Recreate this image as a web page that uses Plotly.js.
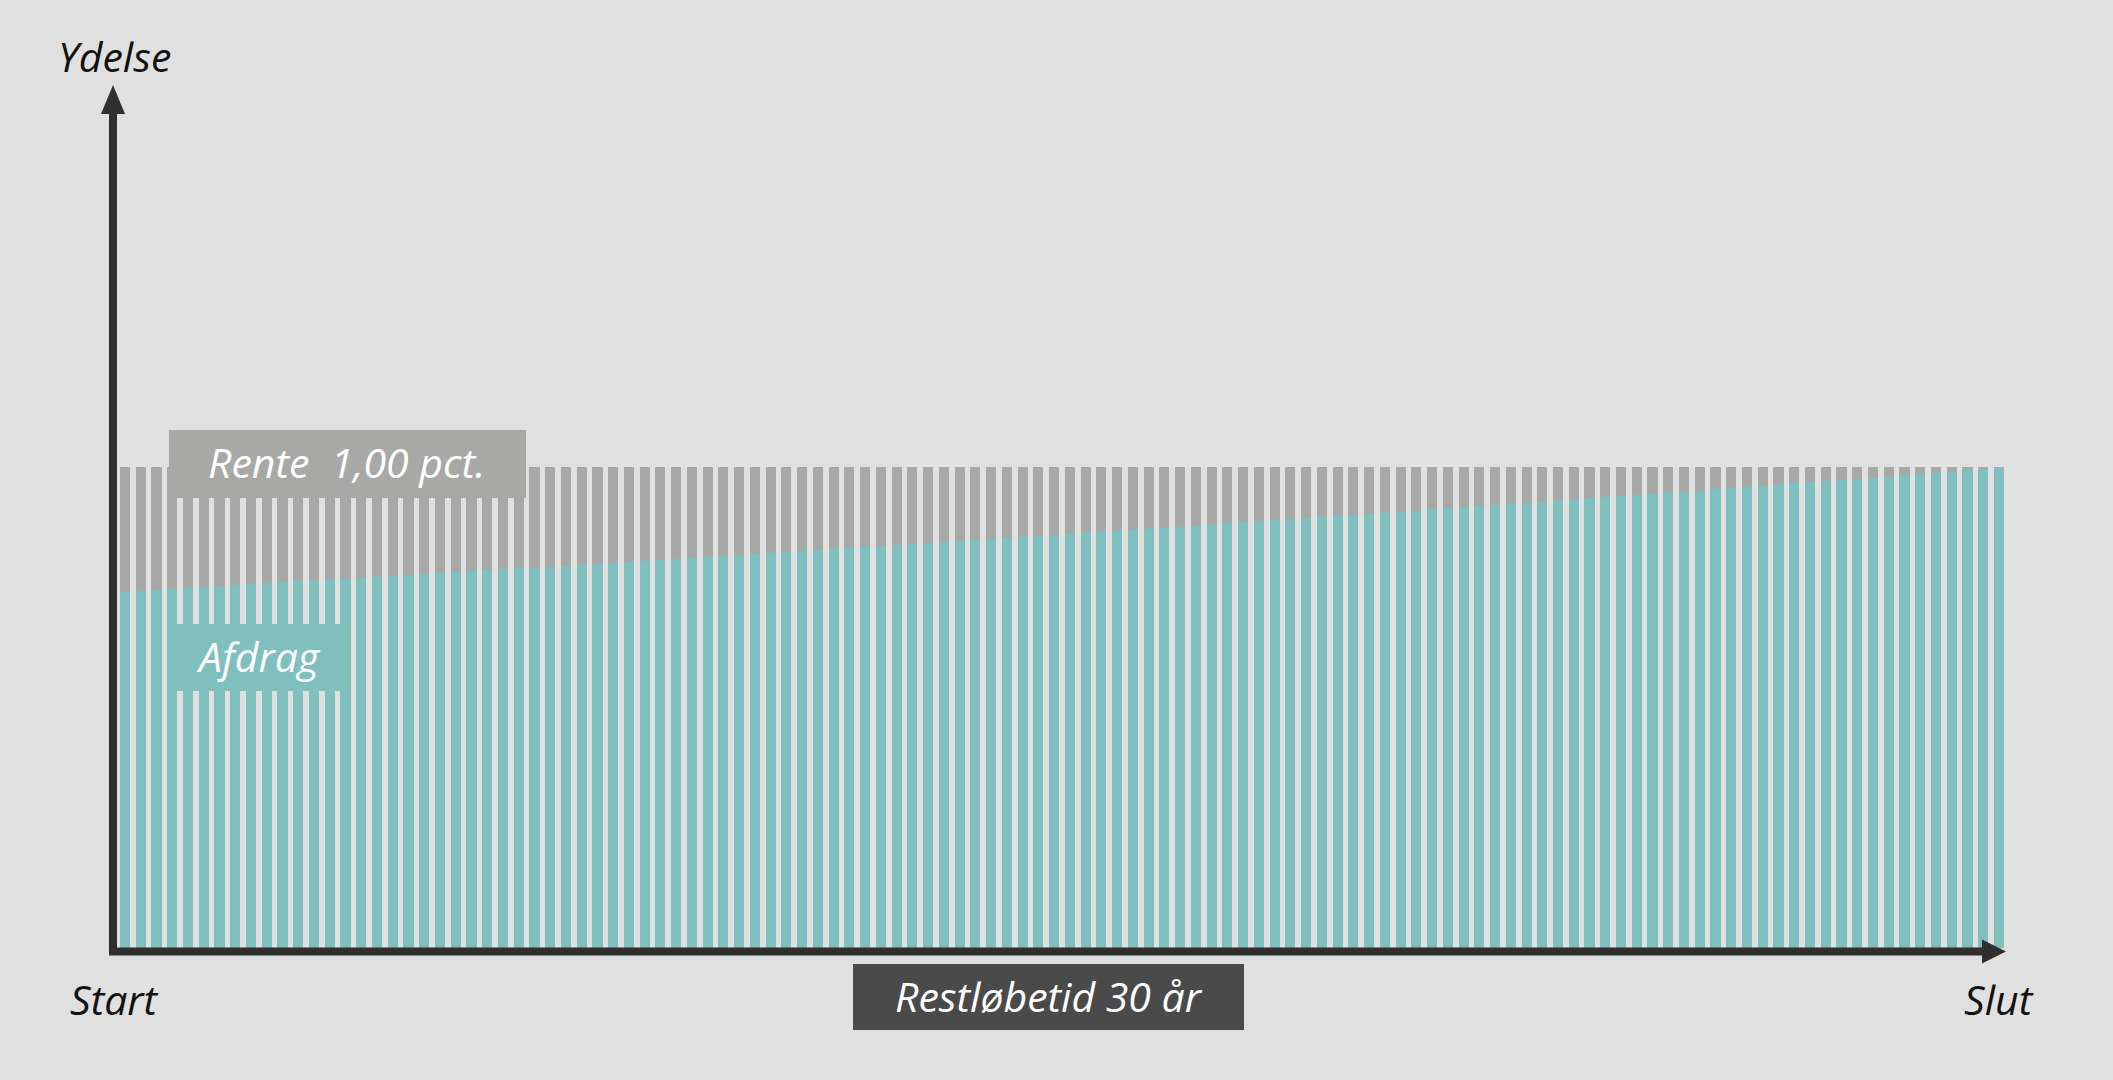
<!DOCTYPE html>
<html>
<head>
<meta charset="utf-8">
<script src="https://cdn.plot.ly/plotly-3.0.1.min.js"></script>
<style>
  html, body { margin: 0; padding: 0; background: #e0e0e0; }
  #chart { width: 2113px; height: 1080px; }
</style>
</head>
<body>
<div id="chart"></div>
<script>
// Annuitetslån, 30 år, kvartalsvise ydelser: andel af ydelsen (pct.)
const termin = Array.from({length: 120}, (_, i) => i + 1);

const afdrag = [
  74.1, 74.3, 74.5, 74.7, 74.9, 75.0, 75.2, 75.4, 75.6, 75.8,
  76.0, 76.2, 76.4, 76.6, 76.7, 76.9, 77.1, 77.3, 77.5, 77.7,
  77.9, 78.1, 78.3, 78.5, 78.7, 78.9, 79.1, 79.3, 79.5, 79.7,
  79.9, 80.1, 80.3, 80.5, 80.7, 80.9, 81.1, 81.3, 81.5, 81.7,
  81.9, 82.1, 82.3, 82.5, 82.7, 82.9, 83.1, 83.3, 83.5, 83.8,
  84.0, 84.2, 84.4, 84.6, 84.8, 85.0, 85.2, 85.4, 85.7, 85.9,
  86.1, 86.3, 86.5, 86.7, 87.0, 87.2, 87.4, 87.6, 87.8, 88.0,
  88.3, 88.5, 88.7, 88.9, 89.2, 89.4, 89.6, 89.8, 90.0, 90.3,
  90.5, 90.7, 90.9, 91.2, 91.4, 91.6, 91.9, 92.1, 92.3, 92.6,
  92.8, 93.0, 93.2, 93.5, 93.7, 94.0, 94.2, 94.4, 94.7, 94.9,
  95.1, 95.4, 95.6, 95.8, 96.1, 96.3, 96.6, 96.8, 97.0, 97.3,
  97.5, 97.8, 98.0, 98.3, 98.5, 98.8, 99.0, 99.3, 99.5, 99.8
];

const rente = [
  25.9, 25.7, 25.5, 25.3, 25.1, 25.0, 24.8, 24.6, 24.4, 24.2,
  24.0, 23.8, 23.6, 23.4, 23.3, 23.1, 22.9, 22.7, 22.5, 22.3,
  22.1, 21.9, 21.7, 21.5, 21.3, 21.1, 20.9, 20.7, 20.5, 20.3,
  20.1, 19.9, 19.7, 19.5, 19.3, 19.1, 18.9, 18.7, 18.5, 18.3,
  18.1, 17.9, 17.7, 17.5, 17.3, 17.1, 16.9, 16.7, 16.5, 16.2,
  16.0, 15.8, 15.6, 15.4, 15.2, 15.0, 14.8, 14.6, 14.3, 14.1,
  13.9, 13.7, 13.5, 13.3, 13.0, 12.8, 12.6, 12.4, 12.2, 12.0,
  11.7, 11.5, 11.3, 11.1, 10.8, 10.6, 10.4, 10.2, 10.0, 9.7,
  9.5, 9.3, 9.1, 8.8, 8.6, 8.4, 8.1, 7.9, 7.7, 7.4,
  7.2, 7.0, 6.8, 6.5, 6.3, 6.0, 5.8, 5.6, 5.3, 5.1,
  4.9, 4.6, 4.4, 4.2, 3.9, 3.7, 3.4, 3.2, 3.0, 2.7,
  2.5, 2.2, 2.0, 1.7, 1.5, 1.2, 1.0, 0.7, 0.5, 0.2
];

const labelRente = 'Rente  1,00 pct.';
const labelAfdrag = 'Afdrag';
const labelLoebetid = 'Restløbetid 30 år';
const labelY = 'Ydelse';
const labelStart = 'Start';
const labelSlut = 'Slut';

// Figure geometry
const W = 2113, H = 1080;
const M = {l: 120, r: 109, t: 467, b: 132};
const plotW = W - M.l - M.r;
const plotH = H - M.t - M.b;
// pixel -> paper coordinates
const px = x => (x - M.l) / plotW;
const py = y => (H - M.b - y) / plotH;

const colTeal = '#7fbfbe';
const colGrey = '#a8a8a7';
const colAxis = '#2f2f2f';
const colDark = '#4a4a4a';
const bg = '#e0e0e0';

const barGap = 0.36;
const half = (1 - barGap) / 2;

const traces = [
  {type: 'bar', x: termin, y: afdrag, name: labelAfdrag,
   marker: {color: colTeal, line: {width: 0}}},
  {type: 'bar', x: termin, y: rente, name: labelRente,
   marker: {color: colGrey, line: {width: 0}}}
];

function rect(x0, y0, x1, y1, color) {
  return {type: 'rect', xref: 'paper', yref: 'paper', layer: 'above',
          x0: px(x0), x1: px(x1), y0: py(y1), y1: py(y0),
          fillcolor: color, line: {width: 0}};
}
function line(x0, y0, x1, y1) {
  return {type: 'line', xref: 'paper', yref: 'paper', layer: 'above',
          x0: px(x0), x1: px(x1), y0: py(y0), y1: py(y1),
          line: {color: colAxis, width: 8}};
}
function tri(pts) {
  const d = pts.map((p, i) => (i ? 'L' : 'M') + px(p[0]) + ',' + py(p[1])).join(' ') + ' Z';
  return {type: 'path', xref: 'paper', yref: 'paper', layer: 'above',
          path: d, fillcolor: colAxis, line: {width: 0}};
}

const shapes = [
  // label boxes
  rect(169, 430, 526, 498, colGrey),
  rect(167, 624, 351, 691, colTeal),
  rect(853, 964, 1244, 1030, colDark),
  // axes with arrow heads
  line(113, 955, 113, 110),
  tri([[113, 85], [101, 114], [125, 114]]),
  line(109, 951.5, 1985, 951.5),
  tri([[2006, 951.5], [1982, 939.5], [1982, 963.5]])
];

const boxFont = {family: '"Open Sans", "Noto Sans", sans-serif', size: 41, color: '#ffffff', style: 'italic'};
const axFont = {family: '"Open Sans", "Noto Sans", sans-serif', size: 41, color: '#111111', style: 'italic'};

function label(text, x, y, font) {
  return {text: text, xref: 'paper', yref: 'paper', x: px(x), y: py(y),
          xanchor: 'center', yanchor: 'middle', showarrow: false, font: font};
}

const annotations = [
  label(labelRente, 346, 462, boxFont),
  label(labelAfdrag, 258, 656, boxFont),
  label(labelLoebetid, 1049, 996, boxFont),
  label(labelY, 114, 56, axFont),
  label(labelStart, 114, 999, axFont),
  label(labelSlut, 1999, 999, axFont)
];

const layout = {
  width: W, height: H,
  margin: M,
  paper_bgcolor: bg, plot_bgcolor: bg,
  barmode: 'stack', bargap: barGap,
  showlegend: false,
  xaxis: {range: [1 - half, 120 + half], visible: false, fixedrange: true},
  yaxis: {range: [0, 100], visible: false, fixedrange: true},
  shapes: shapes,
  annotations: annotations
};

Plotly.newPlot('chart', traces, layout, {displayModeBar: false, staticPlot: true});
</script>
</body>
</html>
